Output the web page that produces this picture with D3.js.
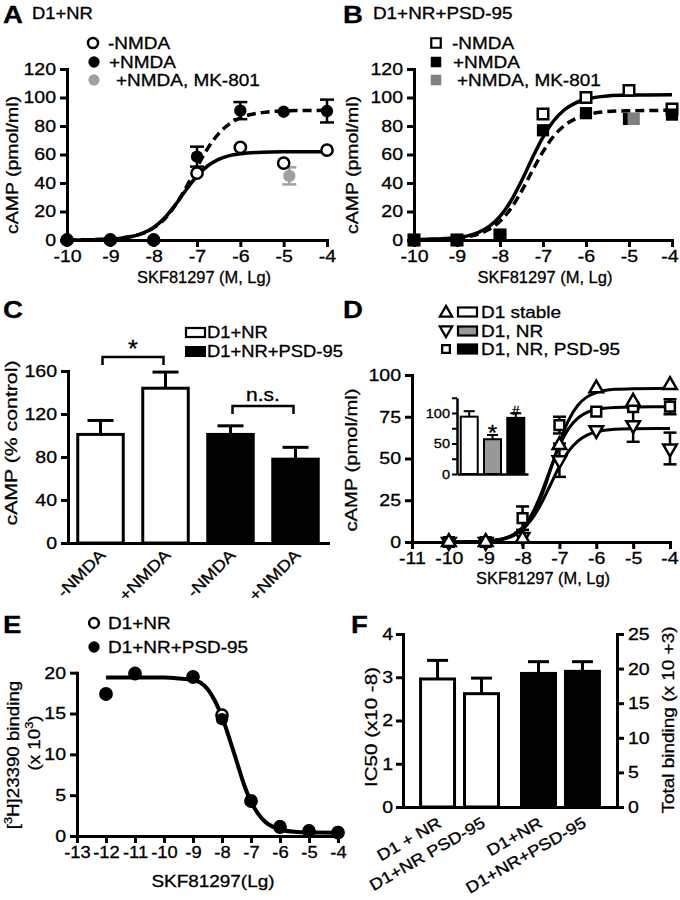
<!DOCTYPE html>
<html><head><meta charset="utf-8">
<script src="https://cdn.jsdelivr.net/npm/d3@7"></script>
<style>body{margin:0;background:#fff} svg{display:block} text{stroke:#000;stroke-width:0.3px}</style>
</head><body><svg id="fig" width="680" height="900"></svg>
<script>
// ================= DATA =================
// Panel A  (D1+NR)
const aDose = [-10, -9, -8, -7, -6, -5, -4];
const aNoNMDA = [0, 0, 0, 47, 65, 54, 63];
const aNMDA = [0, 0, 0, 58.5, 90.8, 90, 90.5];
const aNMDAErr = [0, 0, 0, 7, 6, 0, 8];
const aMKDose = [-4.87];
const aMK = [45];
const aMKErr = [6];
const fitDose = [-10, -9, -8.75, -8.5, -8.25, -8, -7.75, -7.5, -7.25, -7, -6.75, -6.5, -6.25, -6, -5.5, -5, -4];
const aFitNoNMDA = [0, 0.6, 1.3, 2.5, 4.8, 8.8, 15.4, 24.7, 35.3, 44.9, 52.1, 56.6, 59.2, 60.5, 61.6, 61.9, 62];
const aFitNMDA = [0, 0.7, 1.4, 2.6, 4.7, 8.5, 14.7, 24.3, 37, 51.2, 64.4, 74.7, 81.5, 85.7, 89.4, 90.6, 91];
const abLegend = ['-NMDA', '+NMDA', '+NMDA, MK-801'];
const abXTicks = [-10, -9, -8, -7, -6, -5, -4];
const abYTicks = [0, 20, 40, 60, 80, 100, 120];

// Panel B  (D1+NR+PSD-95)
const bDose = [-10, -9, -8, -7, -6, -5, -4];
const bNoNMDA = [0, 0, 3.5, 88.4, 100, 105, 92];
const bNMDA = [0, 0, 3.5, 77, 89, 85, 88];
const bMKDose = [-4.89];
const bMK = [85];
const bFitNoNMDA = [0.1, 1.5, 2.9, 5.3, 9.5, 16.5, 27.2, 41.4, 57.4, 72.2, 83.7, 91.4, 96.1, 98.8, 101.1, 101.7, 102];
const bFitNMDA = [0.1, 1.2, 2.3, 4.2, 7.5, 13.2, 22, 34.2, 48.4, 62, 72.9, 80.4, 85, 87.7, 90.1, 90.7, 91];

// Panel C
const cCategories = ['-NMDA', '+NMDA', '-NMDA ', '+NMDA '];
const cGroup = ['D1+NR', 'D1+NR', 'D1+NR+PSD-95', 'D1+NR+PSD-95'];
const cValues = [101, 144, 101, 78];
const cErr = [13, 15, 8, 11];
const cYTicks = [0, 40, 80, 120, 160];
const cLegend = ['D1+NR', 'D1+NR+PSD-95'];

// Panel D
const dDose = [-10, -9, -8, -7, -6, -5, -4];
const dStable = [0, 0, 2, 58, 92, 84, 94];
const dStableErr = [0, 0, 0, 0, 0, 0, 0];
const dNR = [0, 0, 3, 49, 67, 70, 56];
const dNRErr = [0, 0, 0, 10, 0, 10, 9.5];
const dPSD = [0, 0, 14.3, 70, 78, 80.7, 81];
const dPSDErr = [0, 0, 7, 5, 0, 0, 4.5];
const dFitStable = [0, 0.4, 0.9, 1.8, 3.8, 7.7, 14.9, 26.7, 42.6, 59.4, 73, 81.9, 86.9, 89.5, 91.4, 91.8, 92];
const dFitNR = [0, 0.5, 1.1, 2.1, 4, 7.6, 13.7, 22.7, 34, 45.3, 54.4, 60.4, 64, 65.9, 67.5, 67.8, 68];
const dFitPSD = [0, 0.5, 1, 2.2, 4.5, 8.9, 16.7, 28.7, 43.5, 57.6, 67.9, 74.2, 77.6, 79.4, 80.6, 80.9, 81];
const dLegend = ['D1 stable', 'D1, NR', 'D1, NR, PSD-95'];
const dXTicks = [-11, -10, -9, -8, -7, -6, -5, -4];
const dYTicks = [0, 25, 50, 75, 100];
const insetValues = [94, 57, 92];
const insetErr = [9, 7, 7.5];
const insetMarks = ['', '*', '#'];
const insetYTicks = [0, 25, 50, 75, 100, 125];
const insetYLabels = [0, 50, 100];

// Panel E
const eDose = [-12, -11, -9, -8, -7, -6, -5, -4];
const eNR = [17.4, 19.9, 19.5, 14.8, 4.3, 1.1, 0.6, 0.4];
const ePSD = [17.3, 19.9, 19.4, 14.3, 4.2, 1.2, 0.7, 0.5];
const eFitDose = [-12, -11, -10, -9.5, -9, -8.75, -8.5, -8.25, -8, -7.75, -7.5, -7.25, -7, -6.75, -6.5, -6.25, -6, -5.5, -5, -4];
const eFit = [19.4, 19.4, 19.4, 19.3, 19.1, 18.8, 18.0, 16.6, 14.6, 12.0, 9.2, 6.4, 4.2, 2.7, 1.7, 1.15, 0.8, 0.52, 0.45, 0.4];
const eLegend = ['D1+NR', 'D1+NR+PSD-95'];
const eXTicks = [-13, -12, -11, -10, -9, -8, -7, -6, -5, -4];
const eYTicks = [0, 5, 10, 15, 20];

// Panel F
const fLabels = ['D1 + NR', 'D1+NR PSD-95', 'D1+NR', 'D1+NR+PSD-95'];
const fIC50 = [2.96, 2.62];
const fIC50Err = [0.43, 0.36];
const fTotal = [19.3, 19.6];
const fTotalErr = [1.7, 1.4];
const fLeftTicks = [0, 1, 2, 3, 4];
const fRightTicks = [0, 5, 10, 15, 20, 25];

// ================= HELPERS =================
const FONT = '"Liberation Sans", Arial, Helvetica, sans-serif';
const SX = 1.15;
const TICKFS = 17;
const svg = d3.select('#fig');

function stretch(sel, s = SX) {
  sel.each(function () {
    const t = d3.select(this);
    const x = +t.attr('x') || 0, y = +t.attr('y') || 0;
    const tr = t.attr('transform') || '';
    t.attr('transform', `${tr} translate(${x},${y}) scale(${s},1) translate(${-x},${-y})`);
  });
}
function txt(x, y, s, o = {}) {
  const t = svg.append('text').attr('x', x).attr('y', y).text(s)
    .attr('font-size', o.fs || 16).attr('font-family', FONT)
    .attr('text-anchor', o.anchor || 'start').attr('fill', '#000');
  if (o.bold) t.attr('font-weight', 'bold');
  if (o.rotate) t.attr('transform', `rotate(${o.rotate},${x},${y})`);
  if (o.len) t.attr('textLength', o.len).attr('lengthAdjust', 'spacingAndGlyphs');
  else stretch(t, o.s ?? SX);
  return t;
}
function axisStyle(g, fs, s = SX) {
  g.attr('font-family', FONT).attr('font-size', fs);
  g.select('.domain').attr('stroke', '#000').attr('stroke-width', 3).attr('stroke-linecap', 'square');
  g.selectAll('.tick line').attr('stroke', '#000').attr('stroke-width', 3);
  g.selectAll('.tick text').attr('fill', '#000');
  stretch(g.selectAll('.tick text'), s);
}
function xAxis(x, yPos, ticks, fs = TICKFS, size = 7, s = SX) {
  const g = svg.append('g').attr('transform', `translate(0,${yPos})`)
    .call(d3.axisBottom(x).tickValues(ticks).tickFormat(d => String(d)).tickSize(size).tickPadding(3).tickSizeOuter(0));
  axisStyle(g, fs, s);
  return g;
}
function yAxis(y, xPos, ticks, fs = TICKFS, size = 7, right = false, pad = 4) {
  const ax = (right ? d3.axisRight(y) : d3.axisLeft(y)).tickValues(ticks)
    .tickFormat(d => String(d)).tickSize(size).tickPadding(pad).tickSizeOuter(0);
  const g = svg.append('g').attr('transform', `translate(${xPos},0)`).call(ax);
  axisStyle(g, fs);
  return g;
}
// keep the last tick label inside the page edge
function pullLastLabel(g, rightEdgeOffset) {
  const last = g.selectAll('.tick text').filter((d, i, n) => i === n.length - 1);
  last.attr('text-anchor', 'end').attr('x', rightEdgeOffset).attr('transform', null);
  stretch(last);
}
function errBars(pts, cap, color = '#000', w = 2.5, upOnly = false) {
  const g = svg.append('g').attr('stroke', color).attr('stroke-width', w).attr('fill', 'none');
  pts.filter(p => p.e > 0).forEach(p => {
    const yb = upOnly ? p.y0 : p.ylo;
    g.append('line').attr('x1', p.x).attr('x2', p.x).attr('y1', p.yhi).attr('y2', yb);
    g.append('line').attr('x1', p.x - cap / 2).attr('x2', p.x + cap / 2).attr('y1', p.yhi).attr('y2', p.yhi);
    if (!upOnly) g.append('line').attr('x1', p.x - cap / 2).attr('x2', p.x + cap / 2).attr('y1', p.ylo).attr('y2', p.ylo);
  });
}
function sym(type, size, x, y, fill, stroke, w = 2.5, rot = 0) {
  svg.append('path').attr('d', d3.symbol().type(type).size(size)())
    .attr('transform', `translate(${x},${y}) rotate(${rot})`)
    .attr('fill', fill).attr('stroke', stroke).attr('stroke-width', stroke === 'none' ? 0 : w);
}
function fitLine(x, y, xs, ys, dash, w = 3.5) {
  svg.append('path').datum(xs.map((d, i) => [d, ys[i]]))
    .attr('d', d3.line().x(d => x(d[0])).y(d => y(d[1])).curve(d3.curveMonotoneX))
    .attr('fill', 'none').attr('stroke', '#000').attr('stroke-width', w)
    .attr('stroke-dasharray', dash || null);
}

// ================= PANEL A =================
{
  const x = d3.scaleLinear().domain([-10, -4]).range([67, 327]);
  const y = d3.scaleLinear().domain([0, 120]).range([240, 69]);
  txt(3, 23, 'A', { fs: 24, bold: true, s: 1.15 });
  txt(32, 19, 'D1+NR', { fs: 16, s: 1.15 });
  fitLine(x, y, fitDose, aFitNoNMDA, null);
  fitLine(x, y, fitDose, aFitNMDA, '9,5');
  xAxis(x, 240, abXTicks);
  yAxis(y, 67, abYTicks);
  errBars(aDose.map((d, i) => ({ x: x(d), e: aNMDAErr[i], yhi: y(aNMDA[i] + aNMDAErr[i]), ylo: y(aNMDA[i] - aNMDAErr[i]) })), 14);
  errBars(aMKDose.map((d, i) => ({ x: x(d), e: aMKErr[i], yhi: y(aMK[i] + aMKErr[i]), ylo: y(aMK[i] - aMKErr[i]) })), 14, '#a0a0a0');
  aDose.forEach((d, i) => sym(d3.symbolCircle, 100, x(d), y(aNoNMDA[i]), '#fff', '#000', 2.5));
  aDose.forEach((d, i) => sym(d3.symbolCircle, 120, x(d), y(aNMDA[i]), '#000', 'none'));
  aMKDose.forEach((d, i) => sym(d3.symbolCircle, 120, x(d), y(aMK[i]), '#a0a0a0', 'none'));
  // legend
  sym(d3.symbolCircle, 80, 93, 43, '#fff', '#000', 2.5);
  sym(d3.symbolCircle, 100, 94, 62, '#000', 'none');
  sym(d3.symbolCircle, 100, 94, 80, '#a0a0a0', 'none');
  txt(108, 49, abLegend[0], { fs: 16.5 }); txt(109, 68, abLegend[1], { fs: 16.5 }); txt(116, 86.5, abLegend[2], { fs: 16.5 });
  txt(18, 165, 'cAMP (pmol/ml)', { fs: 17, anchor: 'middle', rotate: -90, len: 138 });
  txt(204, 283, 'SKF81297 (M, Lg)', { fs: 16.5, anchor: 'middle', len: 134 });
}

// ================= PANEL B =================
{
  const x = d3.scaleLinear().domain([-10, -4]).range([414, 672]);
  const y = d3.scaleLinear().domain([0, 120]).range([240, 69]);
  txt(343, 23, 'B', { fs: 24, bold: true, s: 1.15 });
  txt(373, 19, 'D1+NR+PSD-95', { fs: 16, s: 1.18 });
  fitLine(x, y, fitDose, bFitNoNMDA, null);
  fitLine(x, y, fitDose, bFitNMDA, '9,5');
  const gx = xAxis(x, 240, abXTicks);
  pullLastLabel(gx, 6);
  yAxis(y, 414, abYTicks);
  bDose.forEach((d, i) => sym(d3.symbolSquare, 110, x(d), y(bNoNMDA[i]), '#fff', '#000', 2.5));
  bDose.forEach((d, i) => sym(d3.symbolSquare, 150, x(d), y(bNMDA[i]), '#000', 'none'));
  bMKDose.forEach((d, i) => sym(d3.symbolSquare, 150, x(d), y(bMK[i]), '#808080', 'none'));
  sym(d3.symbolSquare, 90, 436, 43, '#fff', '#000', 2.2);
  sym(d3.symbolSquare, 110, 436, 62, '#000', 'none');
  sym(d3.symbolSquare, 110, 436, 80, '#808080', 'none');
  txt(452, 49, abLegend[0], { fs: 16.5 }); txt(453, 68, abLegend[1], { fs: 16.5 }); txt(457, 86.5, abLegend[2], { fs: 16.5 });
  txt(358, 165, 'cAMP (pmol/ml)', { fs: 17, anchor: 'middle', rotate: -90, len: 138 });
  txt(545, 283, 'SKF81297 (M, Lg)', { fs: 16.5, anchor: 'middle', len: 135 });
}

// ================= PANEL C =================
{
  const x = d3.scaleBand().domain(cCategories).range([68, 328]).paddingInner(0.3).paddingOuter(0.15);
  const y = d3.scaleLinear().domain([0, 160]).range([543, 371]);
  txt(3, 318, 'C', { fs: 24, bold: true, s: 1.15 });
  const bw = x.bandwidth();
  cCategories.forEach((c, i) => {
    svg.append('rect').attr('x', x(c)).attr('y', y(cValues[i])).attr('width', bw).attr('height', y(0) - y(cValues[i]))
      .attr('fill', cGroup[i] === cLegend[0] ? '#fff' : '#000').attr('stroke', '#000').attr('stroke-width', 3);
  });
  errBars(cCategories.map((c, i) => ({ x: x(c) + bw / 2, e: cErr[i], yhi: y(cValues[i] + cErr[i]), y0: y(cValues[i]) })), 26, '#000', 3, true);
  xAxis(x, 543, [], TICKFS, 0);
  yAxis(y, 68, cYTicks);
  cCategories.forEach((c, i) => {
    const px = x(c) + bw / 2 + 6;
    txt(px, 556, c.trim(), { fs: 16, anchor: 'end', rotate: -45 });
  });
  // significance brackets
  const b1a = x(cCategories[0]) + bw / 2 + 2, b1b = x(cCategories[1]) + bw / 2 - 2;
  svg.append('path').attr('d', `M${b1a},365 V357 H${b1b} V365`).attr('fill', 'none').attr('stroke', '#000').attr('stroke-width', 2.5);
  txt((b1a + b1b) / 2, 357, '*', { fs: 23, anchor: 'middle', s: 1.1 });
  const b2a = x(cCategories[2]) + bw / 2 + 2, b2b = x(cCategories[3]) + bw / 2 - 2;
  svg.append('path').attr('d', `M${b2a},414 V406 H${b2b} V414`).attr('fill', 'none').attr('stroke', '#000').attr('stroke-width', 2.5);
  txt((b2a + b2b) / 2, 401, 'n.s.', { fs: 17.5, anchor: 'middle', s: 1.2 });
  // legend
  svg.append('rect').attr('x', 186).attr('y', 328).attr('width', 19).attr('height', 9).attr('fill', '#fff').attr('stroke', '#000').attr('stroke-width', 2.2);
  svg.append('rect').attr('x', 185).attr('y', 346).attr('width', 21).attr('height', 11).attr('fill', '#000');
  txt(207, 338.5, cLegend[0], { fs: 16 }); txt(207, 357.5, cLegend[1], { fs: 16 });
  txt(17, 443, 'cAMP (% control)', { fs: 17, anchor: 'middle', rotate: -90, len: 165 });
}

// ================= PANEL D =================
{
  const x = d3.scaleLinear().domain([-11, -4]).range([412, 670]);
  const y = d3.scaleLinear().domain([0, 100]).range([542, 375]);
  txt(343, 318, 'D', { fs: 24, bold: true, s: 1.15 });
  fitLine(x, y, fitDose, dFitStable, null, 3);
  fitLine(x, y, fitDose, dFitPSD, null, 3);
  fitLine(x, y, fitDose, dFitNR, null, 3);
  const gx = xAxis(x, 542, dXTicks);
  pullLastLabel(gx, 8);
  yAxis(y, 412, dYTicks);
  const mk = (vals, errs) => dDose.map((d, i) => ({ x: x(d), e: errs[i], yhi: y(vals[i] + errs[i]), ylo: y(vals[i] - errs[i]) }));
  errBars(mk(dPSD, dPSDErr), 13);
  errBars(mk(dNR, dNRErr), 13);
  errBars(mk(dStable, dStableErr), 13);
  dDose.forEach((d, i) => sym(d3.symbolSquare, 95, x(d), y(dPSD[i]), '#fff', '#000', 2.5));
  dDose.forEach((d, i) => sym(d3.symbolTriangle, 80, x(d), y(dNR[i]), '#fff', '#000', 2.5, 180));
  dDose.forEach((d, i) => sym(d3.symbolTriangle, 80, x(d), y(dStable[i]), '#fff', '#000', 2.5));
  // legend
  const rows = [312, 331, 349];
  sym(d3.symbolTriangle, 65, 446, rows[0] + 1, '#fff', '#000', 2.3);
  sym(d3.symbolTriangle, 65, 446, rows[1] - 1, '#fff', '#000', 2.3, 180);
  sym(d3.symbolSquare, 60, 446, rows[2], '#fff', '#000', 2.3);
  const fills = ['#fff', '#999', '#000'];
  rows.forEach((r, i) => {
    svg.append('rect').attr('x', 458).attr('y', r - 4.5).attr('width', 19).attr('height', 9)
      .attr('fill', fills[i]).attr('stroke', '#000').attr('stroke-width', 2.2);
    txt(481, r + 6, dLegend[i], { fs: 16.5 });
  });
  txt(357, 460, 'cAMP (pmol/ml)', { fs: 17, anchor: 'middle', rotate: -90, len: 143 });
  txt(543, 584, 'SKF81297 (M, Lg)', { fs: 16.5, anchor: 'middle', len: 134 });
  // inset
  const ix = d3.scaleBand().domain(dLegend).range([457, 528]).paddingInner(0.27).paddingOuter(0.16);
  const iy = d3.scaleLinear().domain([0, 125]).range([474, 397.75]);
  const ibw = ix.bandwidth();
  dLegend.forEach((c, i) => {
    svg.append('rect').attr('x', ix(c)).attr('y', iy(insetValues[i])).attr('width', ibw).attr('height', iy(0) - iy(insetValues[i]))
      .attr('fill', fills[i]).attr('stroke', '#000').attr('stroke-width', 2);
  });
  errBars(dLegend.map((c, i) => ({ x: ix(c) + ibw / 2, e: insetErr[i], yhi: iy(insetValues[i] + insetErr[i]), y0: iy(insetValues[i]) })), 11, '#000', 2, true);
  const gix = svg.append('g').attr('transform', `translate(0,474)`).call(d3.axisBottom(ix).tickValues([]).tickSize(0).tickSizeOuter(0));
  gix.select('.domain').attr('stroke', '#000').attr('stroke-width', 2.5);
  const giy = svg.append('g').attr('transform', `translate(457,0)`)
    .call(d3.axisLeft(iy).tickValues(insetYTicks).tickFormat(d => insetYLabels.includes(d) ? String(d) : '').tickSize(5).tickPadding(2).tickSizeOuter(0));
  giy.attr('font-family', FONT).attr('font-size', 13);
  giy.select('.domain').attr('stroke', '#000').attr('stroke-width', 2.5);
  giy.selectAll('.tick line').attr('stroke', '#000').attr('stroke-width', 2);
  giy.selectAll('.tick text').attr('fill', '#000');
  stretch(giy.selectAll('.tick text'), 1.12);
  dLegend.forEach((c, i) => {
    if (!insetMarks[i]) return;
    const top = iy(insetValues[i] + insetErr[i]);
    if (insetMarks[i] === '*') txt(ix(c) + ibw / 2, top + 5, '*', { fs: 22, anchor: 'middle', s: 1.1 });
    else txt(ix(c) + ibw / 2, top + 1.5, insetMarks[i], { fs: 12, anchor: 'middle', s: 1.1 });
  });
}

// ================= PANEL E =================
{
  const x = d3.scaleLinear().domain([-13, -4]).range([77, 338]);
  const y = d3.scaleLinear().domain([0, 20]).range([836, 672.7]);
  txt(3, 633, 'E', { fs: 24, bold: true, s: 1.15 });
  fitLine(x, y, eFitDose, eFit, null, 4);
  xAxis(x, 836, eXTicks, TICKFS, 7, 1.08);
  yAxis(y, 77, eYTicks);
  eDose.forEach((d, i) => sym(d3.symbolCircle, 100, x(d), y(eNR[i]), '#fff', '#000', 2.5));
  eDose.forEach((d, i) => sym(d3.symbolCircle, 120, x(d), y(ePSD[i]), '#000', 'none'));
  sym(d3.symbolCircle, 75, 94, 623, '#fff', '#000', 2.5);
  sym(d3.symbolCircle, 100, 94, 647, '#000', 'none');
  txt(108, 629, eLegend[0], { fs: 16.5 }); txt(108, 653, eLegend[1], { fs: 16.5 });
  // y title with superscripts
  const t1 = svg.append('text').attr('x', 19).attr('y', 755).attr('text-anchor', 'middle')
    .attr('font-family', FONT).attr('font-size', 17).attr('transform', 'rotate(-90,19,755)');
  t1.append('tspan').text('[');
  t1.append('tspan').text('3').attr('font-size', 11.5).attr('dy', -6.5);
  t1.append('tspan').text('H]23390 binding').attr('dy', 6.5);
  stretch(t1, 1.1);
  const t2 = svg.append('text').attr('x', 40).attr('y', 743).attr('text-anchor', 'middle')
    .attr('font-family', FONT).attr('font-size', 17).attr('transform', 'rotate(-90,40,743)');
  t2.append('tspan').text('(x 10');
  t2.append('tspan').text('3').attr('font-size', 11.5).attr('dy', -6.5);
  t2.append('tspan').text(')').attr('dy', 6.5);
  stretch(t2, 1.1);
  txt(213, 887, 'SKF81297(Lg)', { fs: 16.5, anchor: 'middle', len: 123 });
}

// ================= PANEL F =================
{
  const outer = d3.scaleBand().domain(['IC50', 'Total']).range([403, 617]).paddingInner(0.1).paddingOuter(0.11);
  const inner = d3.scaleBand().domain([0, 1]).range([0, outer.bandwidth()]).paddingInner(0.227).paddingOuter(0.147);
  const yL = d3.scaleLinear().domain([0, 4]).range([807, 634]);
  const yR = d3.scaleLinear().domain([0, 25]).range([807, 634]);
  txt(351, 633, 'F', { fs: 24, bold: true, s: 1.15 });
  const bars = [
    { g: 'IC50', k: 0, v: fIC50[0], e: fIC50Err[0], s: yL, fill: '#fff', label: fLabels[0] },
    { g: 'IC50', k: 1, v: fIC50[1], e: fIC50Err[1], s: yL, fill: '#fff', label: fLabels[1] },
    { g: 'Total', k: 0, v: fTotal[0], e: fTotalErr[0], s: yR, fill: '#000', label: fLabels[2] },
    { g: 'Total', k: 1, v: fTotal[1], e: fTotalErr[1], s: yR, fill: '#000', label: fLabels[3] }
  ];
  const bw = inner.bandwidth();
  bars.forEach(b => {
    b.x = outer(b.g) + inner(b.k);
    svg.append('rect').attr('x', b.x).attr('y', b.s(b.v)).attr('width', bw).attr('height', b.s(0) - b.s(b.v))
      .attr('fill', b.fill).attr('stroke', '#000').attr('stroke-width', 3);
  });
  errBars(bars.map(b => ({ x: b.x + bw / 2, e: b.e, yhi: b.s(b.v + b.e), y0: b.s(b.v) })), 21, '#000', 3, true);
  const gx = svg.append('g').attr('transform', 'translate(0,807)').call(d3.axisBottom(outer).tickValues([]).tickSize(0).tickSizeOuter(0));
  gx.select('.domain').attr('stroke', '#000').attr('stroke-width', 3).attr('stroke-linecap', 'square');
  yAxis(yL, 403, fLeftTicks, TICKFS, 7, false, 3);
  yAxis(yR, 617, fRightTicks, TICKFS, 7, true, 4);
  bars.forEach(b => txt(b.x + bw / 2 + 5, 826, b.label, { fs: 16, anchor: 'end', rotate: -30 }));
  txt(377, 727, 'IC50 (x10 -8)', { fs: 17, anchor: 'middle', rotate: -90, len: 120 });
  txt(674, 720, 'Total binding (x 10 +3)', { fs: 17, anchor: 'middle', rotate: -90, len: 187 });
}
</script>
</body></html>
